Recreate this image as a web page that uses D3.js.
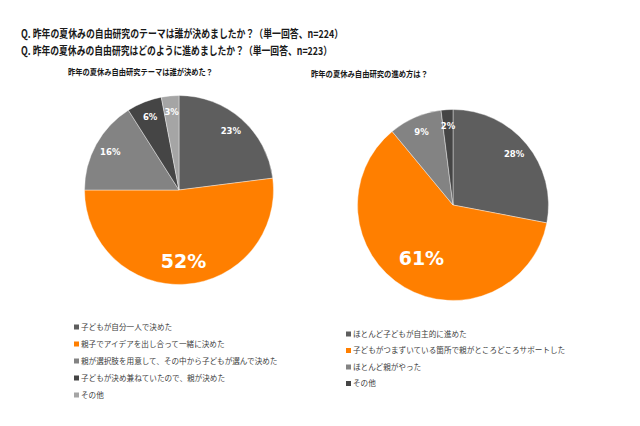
<!DOCTYPE html>
<html><head><meta charset="utf-8">
<script src="https://cdn.jsdelivr.net/npm/d3@7"></script>
<style>body{margin:0;background:#fff}svg{display:block}</style>
</head><body>
<svg id="c" width="640" height="426"></svg>
<script>
const titles = ["Q. 昨年の夏休みの自由研究のテーマは誰が決めましたか？（単一回答、n=224）",
                "Q. 昨年の夏休みの自由研究はどのように進めましたか？（単一回答、n=223）"];
const leftTitle = "昨年の夏休み自由研究テーマは誰が決めた？";
const leftCategories = ["子どもが自分一人で決めた","親子でアイデアを出し合って一緒に決めた","親が選択肢を用意して、その中から子どもが選んで決めた","子どもが決め兼ねていたので、親が決めた","その他"];
const leftValues = [23,52,16,6,3];
const rightTitle = "昨年の夏休み自由研究の進め方は？";
const rightCategories = ["ほとんど子どもが自主的に進めた","子どもがつまずいている箇所で親がところどころサポートした","ほとんど親がやった","その他"];
const rightValues = [28,61,9,2];
const leftColors = ["#5e5e5e","#ff7f00","#838383","#454545","#a5a5a5"];
const rightColors = ["#5e5e5e","#ff7f00","#838383","#454545"];

const svg = d3.select("#c");
const FF = "'Noto Sans CJK JP','Noto Sans',sans-serif";

// Main titles
const tLen = [322, 311];
titles.forEach((t,i)=>{
  svg.append("text").attr("x",21).attr("y",38+i*17)
    .attr("font-family",FF).attr("font-weight","bold").attr("font-size",11)
    .attr("fill","#1a1a1a").attr("textLength",tLen[i]).attr("lengthAdjust","spacingAndGlyphs")
    .text(t);
});

function drawPie(cfg){
  const g = svg.append("g").attr("transform",`translate(${cfg.cx},${cfg.cy})`);
  const pie = d3.pie().sort(null).value(d=>d);
  const arcs = pie(cfg.values);
  const arc = d3.arc().innerRadius(0).outerRadius(cfg.r);
  g.selectAll("path").data(arcs).join("path")
    .attr("d",arc).attr("fill",(d,i)=>cfg.colors[i])
    .attr("stroke","#ffffff").attr("stroke-width",0.4);
  arcs.forEach((d,i)=>{
    const big = d.value>50;
    const lr = cfg.r*(big?cfg.bigFactor:0.83);
    const la = d3.arc().innerRadius(lr).outerRadius(lr);
    const [x,y] = la.centroid(d);
    g.append("text").attr("x",x).attr("y",y).attr("dy","0.35em")
      .attr("text-anchor","middle").attr("font-family","Verdana,'DejaVu Sans',sans-serif")
      .attr("font-weight","bold").attr("font-size",big?19:8.5).attr("fill","#ffffff")
      .text(d.value+"%");
  });
  svg.append("text").attr("x",cfg.tx).attr("y",cfg.ty)
    .attr("font-family",FF).attr("font-weight","bold").attr("font-size",8.5)
    .attr("fill","#1a1a1a").attr("textLength",cfg.tlen).attr("lengthAdjust","spacingAndGlyphs")
    .text(cfg.title);
  const lg = svg.append("g");
  cfg.categories.forEach((c,i)=>{
    const y = cfg.ly + i*cfg.lstep;
    lg.append("rect").attr("x",cfg.lx).attr("y",y-2.5).attr("width",5).attr("height",5)
      .attr("fill",cfg.colors[i]);
    lg.append("text").attr("x",cfg.lx+7).attr("y",y).attr("dy","0.35em")
      .attr("font-family",FF).attr("font-size",7.6).attr("fill","#404040").text(c);
  });
}

drawPie({cx:179,cy:190,r:94.5,values:leftValues,colors:leftColors,categories:leftCategories,
  title:leftTitle,tx:68,ty:74.5,tlen:145,bigFactor:0.76,lx:74,ly:327,lstep:17});
drawPie({cx:453,cy:205,r:95.5,values:rightValues,colors:rightColors,categories:rightCategories,
  title:rightTitle,tx:311,ty:76.5,tlen:117,bigFactor:0.65,lx:346,ly:334,lstep:16.5});
</script>
</body></html>
